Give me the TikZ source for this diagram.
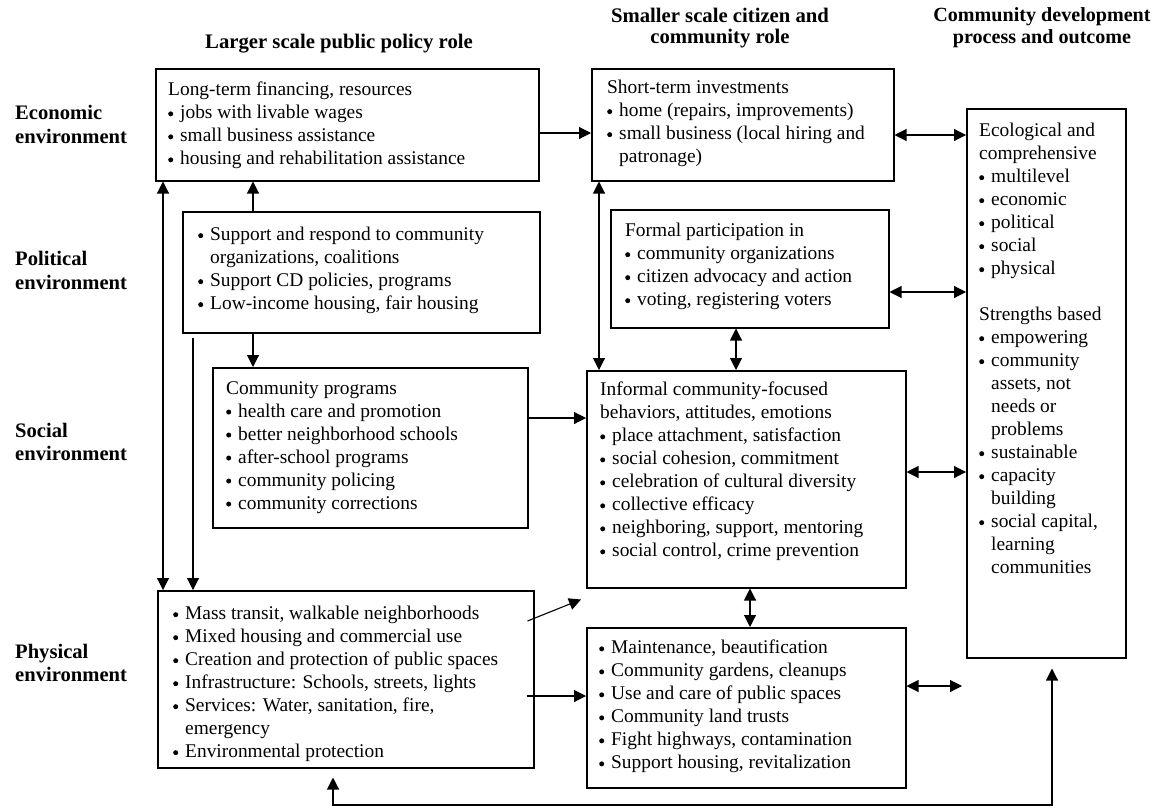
\documentclass[tikz,border=0pt]{standalone}
\usepackage{fontspec}
\setmainfont{Liberation Serif}
\usetikzlibrary{arrows.meta,calc}
\newcommand\mybul{\makebox[12pt][l]{\tikz[x=1pt,y=1pt,baseline=-5pt]\fill (2.5,0) circle[radius=2.5pt];}}
\newcommand\myind{\hspace*{12pt}}
\begin{document}
\begin{tikzpicture}[x=1pt,y=-1pt,
  box/.style={draw, line width=1.5pt, inner sep=0pt, anchor=north west},
  txt/.style={anchor=north west, inner sep=0pt, align=left, font=\fontsize{19.4}{23}\selectfont},
  rowlab/.style={anchor=north west, inner sep=0pt, align=left, font=\fontsize{20.6}{23.5}\selectfont\bfseries},
  head/.style={anchor=north, inner sep=0pt, align=center, font=\fontsize{20.7}{21.5}\selectfont\bfseries},
  arr/.style={-{Triangle[length=12pt,width=12pt]}, line width=1.1pt},
  darr/.style={{Triangle[length=12pt,width=12pt]}-{Triangle[length=12pt,width=12pt]}, line width=1.1pt}]
\useasboundingbox[fill=white] (0,0) rectangle (1155,808);

% headings
\node[head] (h1) at (339,33.5) {Larger scale public policy role};
\node[head] (h2) at (720,7.5) {Smaller scale citizen and\\community role};
\node[head, font=\fontsize{20.1}{21.5}\selectfont\bfseries] (h3) at (1042,7.5) {Community development\\process and outcome};

% row labels
\node[rowlab] (r1) at (15,105.5) {Economic\\environment};
\node[rowlab] (r2) at (15,251.5) {Political\\environment};
\node[rowlab] (r3) at (15,422.5) {Social\\environment};
\node[rowlab] (r4) at (15,643.5) {Physical\\environment};

% boxes
\node[box, minimum width=383pt, minimum height=112pt] (A) at (155,68) {};
\node[box, minimum width=357pt, minimum height=121pt] (B) at (182,211) {};
\node[box, minimum width=315pt, minimum height=160pt] (C) at (212,367) {};
\node[box, minimum width=376pt, minimum height=177pt] (D) at (157,590) {};
\node[box, minimum width=302pt, minimum height=112pt] (E) at (591,68) {};
\node[box, minimum width=278pt, minimum height=118pt] (F) at (610,209) {};
\node[box, minimum width=319pt, minimum height=217pt] (G) at (586,370) {};
\node[box, minimum width=319pt, minimum height=160pt] (H) at (586,627) {};
\node[box, minimum width=159pt, minimum height=549pt] (I) at (966,108) {};

% texts
\node[txt] (At) at (168,82) {Long-term financing, resources\\
\mybul jobs with livable wages\\
\mybul small business assistance\\
\mybul housing and rehabilitation assistance};
\node[txt] (Bt) at (198,227) {\mybul Support and respond to community\\
\myind organizations, coalitions\\
\mybul Support CD policies, programs\\
\mybul Low-income housing, fair housing};
\node[txt] (Ct) at (226,381) {Community programs\\
\mybul health care and promotion\\
\mybul better neighborhood schools\\
\mybul after-school programs\\
\mybul community policing\\
\mybul community corrections};
\node[txt] (Dt) at (173,606) {\mybul Mass transit, walkable neighborhoods\\
\mybul Mixed housing and commercial use\\
\mybul Creation and protection of public spaces\\
\mybul Infrastructure: Schools, streets, lights\\
\mybul Services: Water, sanitation, fire,\\
\myind emergency\\
\mybul Environmental protection};
\node[txt] (Et) at (607,80) {Short-term investments\\
\mybul home (repairs, improvements)\\
\mybul small business (local hiring and\\
\myind patronage)};
\node[txt] (Ft) at (625,223) {Formal participation in\\
\mybul community organizations\\
\mybul citizen advocacy and action\\
\mybul voting, registering voters};
\node[txt] (Gt) at (600,382) {Informal community-focused\\
behaviors, attitudes, emotions\\
\mybul place attachment, satisfaction\\
\mybul social cohesion, commitment\\
\mybul celebration of cultural diversity\\
\mybul collective efficacy\\
\mybul neighboring, support, mentoring\\
\mybul social control, crime prevention};
\node[txt] (Ht) at (599,640) {\mybul Maintenance, beautification\\
\mybul Community gardens, cleanups\\
\mybul Use and care of public spaces\\
\mybul Community land trusts\\
\mybul Fight highways, contamination\\
\mybul Support housing, revitalization};
\node[txt] (It) at (979,123) {Ecological and\\
comprehensive\\
\mybul multilevel\\
\mybul economic\\
\mybul political\\
\mybul social\\
\mybul physical\\[23pt]
Strengths based\\
\mybul empowering\\
\mybul community\\
\myind assets, not\\
\myind needs or\\
\myind problems\\
\mybul sustainable\\
\mybul capacity\\
\myind building\\
\mybul social capital,\\
\myind learning\\
\myind communities};

% helper coordinates
\coordinate (yAE) at (0,133);
\coordinate (yEI) at (0,135);
\coordinate (x163) at (163,0);
\coordinate (x253) at (253,0);
\coordinate (s193) at (193,338);
\coordinate (yCG) at (0,418);
\coordinate (yDH) at (0,696);
\coordinate (yGI) at (0,472);
\coordinate (yFI) at (0,292);
\coordinate (xFG) at (736,0);
\coordinate (xEG) at (599,0);
\coordinate (xGH) at (750,0);
\coordinate (hend) at (962,686);
\coordinate (fbL) at (333,805);
\coordinate (fbR) at (1052,805);

% connectors
\draw[arr] (A.east |- yAE) -- (E.west |- yAE);
\draw[darr] (E.east |- yEI) -- (I.west |- yEI);
\draw[darr] (A.south -| x163) -- (D.north -| x163);
\draw[arr] (B.north -| x253) -- (A.south -| x253);
\draw[arr] (B.south -| x253) -- (C.north -| x253);
\draw[arr] (s193) -- (D.north -| s193);
\draw[arr] (C.east |- yCG) -- (G.west |- yCG);
\draw[arr] ($(D.north east)+(-7,31)$) -- ($(G.south west)+(-5,11)$);
\draw[arr] ($(D.east |- yDH)+(-8,0)$) -- (H.west |- yDH);
\draw[darr] (G.east |- yGI) -- (I.west |- yGI);
\draw[darr] (F.east |- yFI) -- (I.west |- yFI);
\draw[darr] (F.south -| xFG) -- (G.north -| xFG);
\draw[darr] (E.south -| xEG) -- (G.north -| xEG);
\draw[darr] (G.south -| xGH) -- (H.north -| xGH);
\draw[darr] (H.east |- hend) -- (hend);
\draw[darr] ($(D.south -| fbL)+(0,9)$) -- (fbL) -- (fbR) -- ($(I.south -| fbR)+(0,10)$);
\end{tikzpicture}
\end{document}
